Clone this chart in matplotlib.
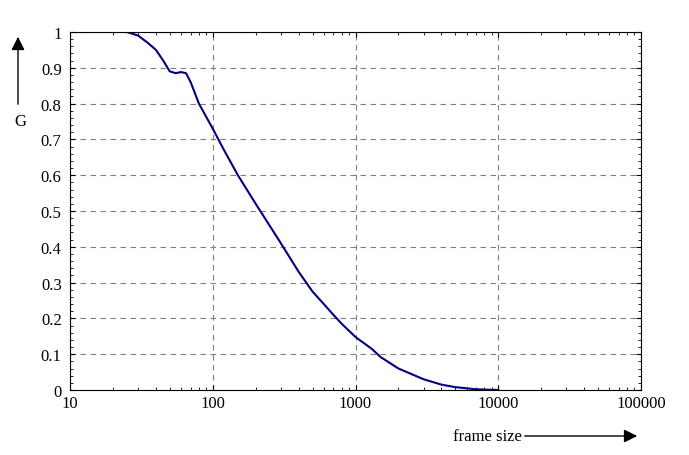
import matplotlib
matplotlib.use("Agg")
import matplotlib.pyplot as plt

frame_size = [25, 30, 35, 40, 45, 50, 55, 60, 65, 70, 80, 100, 120, 150, 200, 300, 400,
              500, 600, 700, 800, 1000, 1300, 1500, 2000, 3000, 4000, 5000, 7000, 10000]
G = [1.0, 0.99, 0.97, 0.95, 0.92, 0.89, 0.885, 0.888, 0.885, 0.86, 0.80, 0.73, 0.67,
     0.60, 0.52, 0.41, 0.33, 0.275, 0.24, 0.21, 0.185, 0.148, 0.115, 0.092, 0.06, 0.03,
     0.015, 0.008, 0.002, 0.0]
xticks = [10, 100, 1000, 10000, 100000]
yticks = [0, 0.1, 0.2, 0.3, 0.4, 0.5, 0.6, 0.7, 0.8, 0.9, 1]

plt.rcParams["font.family"] = "Liberation Serif"
fig = plt.figure(figsize=(6.89, 4.56), dpi=100)
ax = fig.add_axes([70/689, 1-391/456, 571/689, 358/456])
ax.plot(frame_size, G, color="#000080", lw=1.5)
ax.set_xscale("log")
ax.set_xlim(10, 1e5)
ax.set_ylim(0, 1)
ax.set_xticks(xticks)
ax.set_xticklabels([str(t) for t in xticks], fontsize=12)
ax.set_yticks(yticks)
ax.set_yticklabels([f"{t:g}" for t in yticks], fontsize=12)
ax.tick_params(direction="in", which="both", top=True, right=True)
ax.tick_params(axis="y", pad=6)
ax.grid(True, which="major", color="gray", ls=(0, (5, 4)), lw=0.8)
ax.minorticks_on()

fig.text(20/689, 1-122/456, "G", fontsize=12, ha="center", va="center")
ax.annotate("", xy=(18/689, 1-35/456), xytext=(18/689, 1-108/456), xycoords="figure fraction",
            arrowprops=dict(arrowstyle="-|>", color="black", lw=1, mutation_scale=20))
fig.text(453/689, 1-437/456, "frame size", fontsize=12, va="center")
ax.annotate("", xy=(640/689, 1-437/456), xytext=(522/689, 1-437/456), xycoords="figure fraction",
            arrowprops=dict(arrowstyle="-|>", color="black", lw=1, mutation_scale=20))
fig.savefig("out.png")
